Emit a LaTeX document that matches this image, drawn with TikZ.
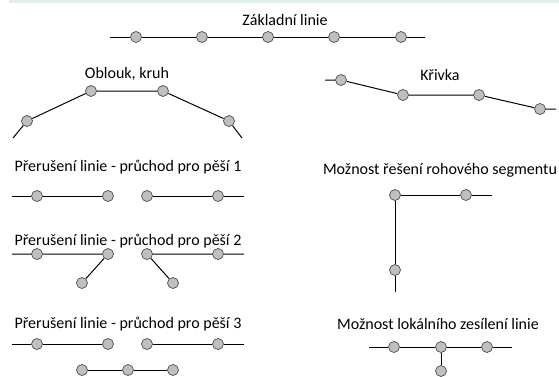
\documentclass[tikz,border=0pt]{standalone}
\usepackage{fontspec}
\setmainfont{Carlito}
\definecolor{mata}{HTML}{DFF0E8}
\begin{document}
\begin{tikzpicture}[x=1pt,y=-1pt,font=\fontsize{16}{19}\selectfont,
  bod/.style={draw=black!70,fill=black!25,circle,inner sep=0pt,minimum size=11pt,line width=0.7pt},
  every path/.style={line width=1pt}]
\useasboundingbox (0,0) rectangle (559,376);
\fill[mata] (9,0) rectangle (559,3);

% zakladni linie
\node (t1) at (285,20) {Základní linie};
\coordinate (z0) at (110,37);
\coordinate (z6) at (425,37);
\foreach \x [count=\i] in {136,202,268,334,401}
  \node[bod] (z\i) at (\x,37) {};
\draw (z0) -- (z1) -- (z2) -- (z3) -- (z4) -- (z5) -- (z6);

% oblouk
\node (t2) at (127,74) {Oblouk, kruh};
\coordinate (o0) at (13,138);
\coordinate (o5) at (242,138);
\node[bod] (o1) at (27,121) {};
\node[bod] (o2) at (91,91) {};
\node[bod] (o3) at (163,91) {};
\node[bod] (o4) at (229,121) {};
\draw (o0) -- (o1) -- (o2) -- (o3) -- (o4) -- (o5);

% krivka
\node (t3) at (440,75) {Křivka};
\coordinate (k0) at (325,80);
\coordinate (k5) at (556,109);
\node[bod] (k1) at (341,80) {};
\node[bod] (k2) at (403,95) {};
\node[bod] (k3) at (479,95) {};
\node[bod] (k4) at (540,109) {};
\draw (k0) -- (k1) -- (k2) -- (k3) -- (k4) -- (k5);

% preruseni 1
\node (t4) at (128,167) {Přerušení linie - průchod pro pěší 1};
\coordinate (a0) at (12,196);
\coordinate (a5) at (244,196);
\foreach \x [count=\i] in {37,108,147,218}
  \node[bod] (a\i) at (\x,196) {};
\draw (a0) -- (a1) -- (a2);
\draw (a3) -- (a4) -- (a5);

% preruseni 2
\node (t5) at (128,241) {Přerušení linie - průchod pro pěší 2};
\coordinate (b0) at (12,254);
\coordinate (b5) at (244,254);
\foreach \x [count=\i] in {37,108,147,218}
  \node[bod] (b\i) at (\x,254) {};
\node[bod] (b6) at (82,283) {};
\node[bod] (b7) at (173,283) {};
\draw (b0) -- (b1) -- (b2) -- (b6);
\draw (b7) -- (b3) -- (b4) -- (b5);

% preruseni 3
\node (t6) at (128,324) {Přerušení linie - průchod pro pěší 3};
\coordinate (c0) at (12,344);
\coordinate (c5) at (244,344);
\foreach \x [count=\i] in {37,108,147,218}
  \node[bod] (c\i) at (\x,344) {};
\foreach \x [count=\i from 6] in {82,128,173}
  \node[bod] (c\i) at (\x,370) {};
\draw (c0) -- (c1) -- (c2);
\draw (c3) -- (c4) -- (c5);
\draw (c6) -- (c7) -- (c8);

% rohovy segment
\node (t7) at (440,170) {Možnost řešení rohového segmentu};
\coordinate (r0) at (492,195);
\coordinate (r3) at (395,292);
\node[bod] (r1) at (395,195) {};
\node[bod] (r2) at (466,195) {};
\node[bod] (r4) at (395,270) {};
\draw (r0) -- (r2) -- (r1) -- (r4) -- (r3);

% lokalni zesileni
\node (t8) at (438,324) {Možnost lokálního zesílení linie};
\coordinate (s0) at (369,347);
\coordinate (s4) at (512,347);
\foreach \x [count=\i] in {394,441,487}
  \node[bod] (s\i) at (\x,347) {};
\node[bod] (s5) at (441,371) {};
\draw (s0) -- (s1) -- (s2) -- (s3) -- (s4);
\draw (s2) -- (s5);
\end{tikzpicture}
\end{document}
